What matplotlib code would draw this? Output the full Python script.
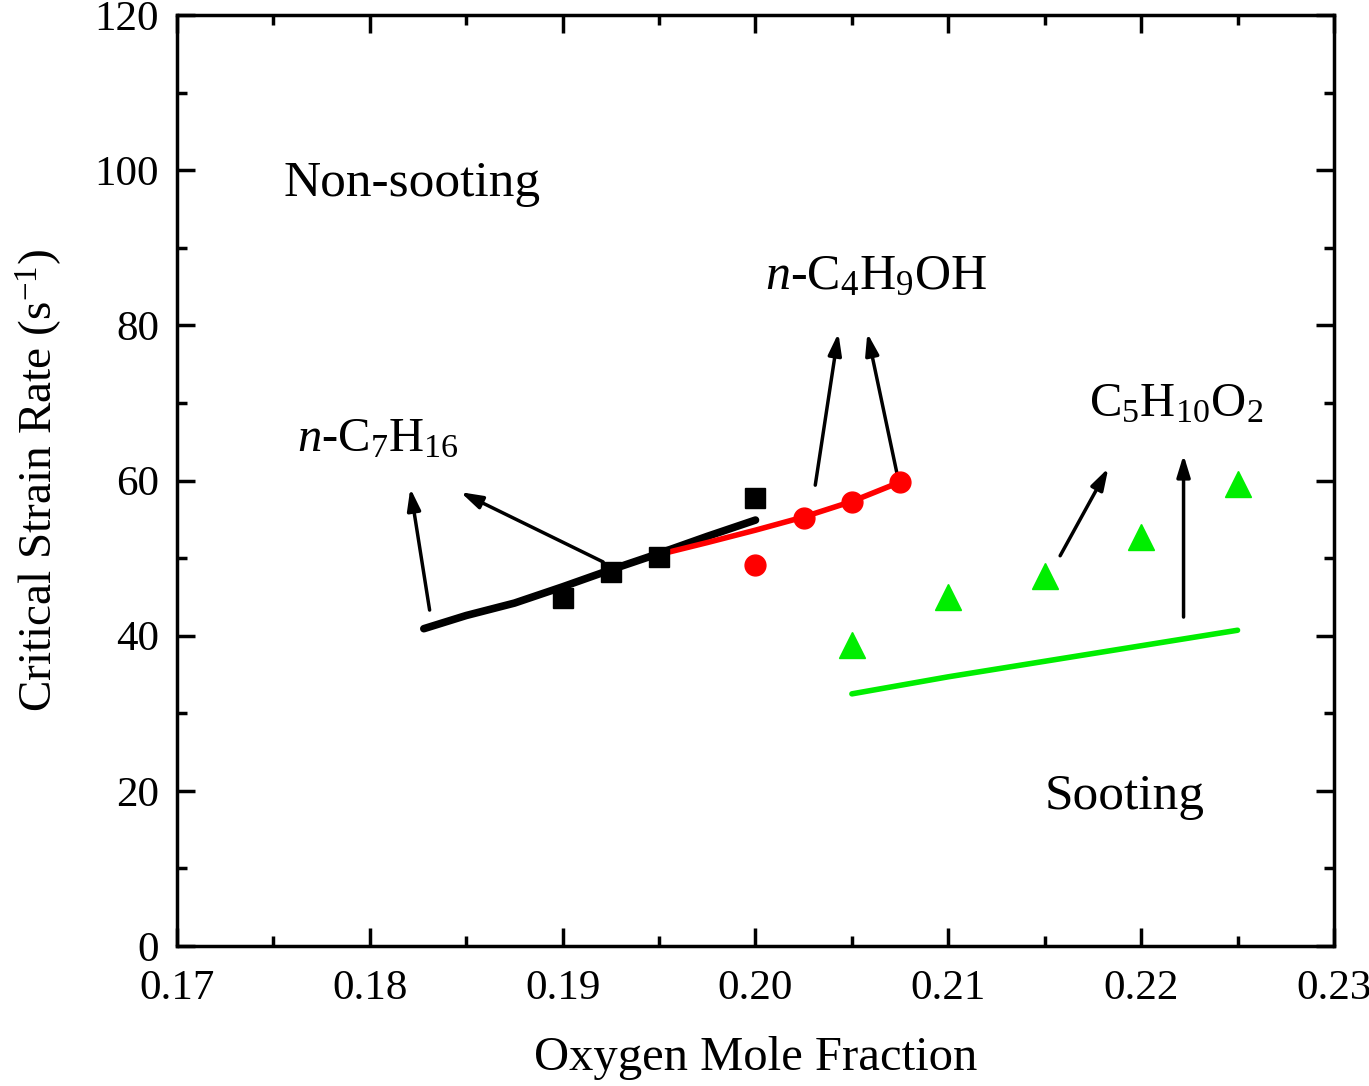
import numpy as np
import matplotlib
matplotlib.use("Agg")
import matplotlib.pyplot as plt
from matplotlib.ticker import MultipleLocator

plt.rcParams["font.family"] = ["Liberation Serif", "DejaVu Serif"]
plt.rcParams["mathtext.fontset"] = "custom"
plt.rcParams["mathtext.rm"] = "Liberation Serif"
plt.rcParams["mathtext.it"] = "Liberation Serif:italic"

# measured points
heptane_x = [0.19, 0.1925, 0.195, 0.20]
heptane_y = [44.8, 48.2, 50.1, 57.7]
butanol_x = [0.20, 0.2025, 0.205, 0.2075]
butanol_y = [49.1, 55.2, 57.2, 59.8]
ester_x = [0.205, 0.21, 0.215, 0.22, 0.225]
ester_y = [38.8, 45.0, 47.7, 52.7, 59.5]

# model curves
heptane_fit_x = [0.1828, 0.185, 0.1875, 0.19, 0.1925, 0.195, 0.1975, 0.20]
heptane_fit_y = [40.9, 42.6, 44.2, 46.3, 48.5, 50.6, 52.8, 54.9]
butanol_fit_x = [0.1949, 0.1975, 0.20, 0.2025, 0.205, 0.2075]
butanol_fit_y = [50.4, 52.0, 53.6, 55.3, 57.3, 59.8]
ester_fit_x = [0.205, 0.21, 0.215, 0.22, 0.225]
ester_fit_y = [32.5, 34.7, 36.7, 38.7, 40.7]

# arrows: (x_start, y_start, x_end, y_end)
arrows = [
    (0.1831, 43.3, 0.1821, 59.0),
    (0.1921, 49.5, 0.1847, 58.5),
    (0.2031, 59.4, 0.2043, 79.0),
    (0.2075, 59.0, 0.2058, 79.0),
    (0.2158, 50.3, 0.2183, 61.6),
    (0.2222, 42.4, 0.2222, 63.3),
]

fig = plt.figure(figsize=(13.69, 10.86), dpi=100)
ax = fig.add_axes([0.1293, 0.1289, 0.8451, 0.8573])

ax.plot(heptane_fit_x, heptane_fit_y, color="black", lw=5.5, solid_capstyle="round", zorder=2)
ax.plot(butanol_fit_x, butanol_fit_y, color="red", lw=4, solid_capstyle="round", zorder=3)
ax.plot(ester_fit_x, ester_fit_y, color="#00ee00", lw=4, solid_capstyle="round", zorder=2)

ax.plot(heptane_x, heptane_y, "s", color="black", ms=14, ls="none", zorder=4)
ax.plot(butanol_x, butanol_y, "o", color="red", ms=15, ls="none", zorder=4)
ax.plot(ester_x, ester_y, "^", color="#00ee00", ms=19, ls="none", zorder=4)

for x0, y0, x1, y1 in arrows:
    ax.annotate("", xy=(x1, y1), xytext=(x0, y0),
                arrowprops=dict(arrowstyle="-|>,head_length=1.3,head_width=0.4",
                                color="black", lw=2.5, shrinkA=0, shrinkB=0))

ax.text(0.1755, 98.3, "Non-sooting", fontsize=37, va="center", ha="left")
ax.text(0.2150, 19.2, "Sooting", fontsize=37, va="center", ha="left")
ax.text(0.1762, 65.3, r"$n$-C$_7$H$_{16}$", fontsize=35, va="center", ha="left")
ax.text(0.2005, 86.3, r"$n$-C$_4$H$_9$OH", fontsize=36, va="center", ha="left")
ax.text(0.2173, 69.8, r"C$_5$H$_{10}$O$_2$", fontsize=35, va="center", ha="left")

ax.set_xlim(0.17, 0.23)
ax.set_ylim(0, 120)
ax.set_xticks(np.arange(0.17, 0.2301, 0.01))
ax.set_xticklabels([f"{v:.2f}" for v in np.arange(0.17, 0.2301, 0.01)])
ax.xaxis.set_minor_locator(MultipleLocator(0.005))
ax.yaxis.set_major_locator(MultipleLocator(20))
ax.yaxis.set_minor_locator(MultipleLocator(10))

ax.tick_params(which="both", direction="in", top=True, right=True, width=2.5, labelsize=31)
ax.tick_params(which="major", length=13)
ax.tick_params(which="minor", length=7)
ax.tick_params(axis="x", which="major", pad=17)
ax.tick_params(axis="y", which="major", pad=13)
for s in ax.spines.values():
    s.set_linewidth(2.5)

ax.set_xlabel("Oxygen Mole Fraction", fontsize=35, labelpad=20)
ax.set_ylabel(r"Critical Strain Rate (s$^{-1}$)", fontsize=34, labelpad=22)

fig.savefig("out.png", dpi=100)
